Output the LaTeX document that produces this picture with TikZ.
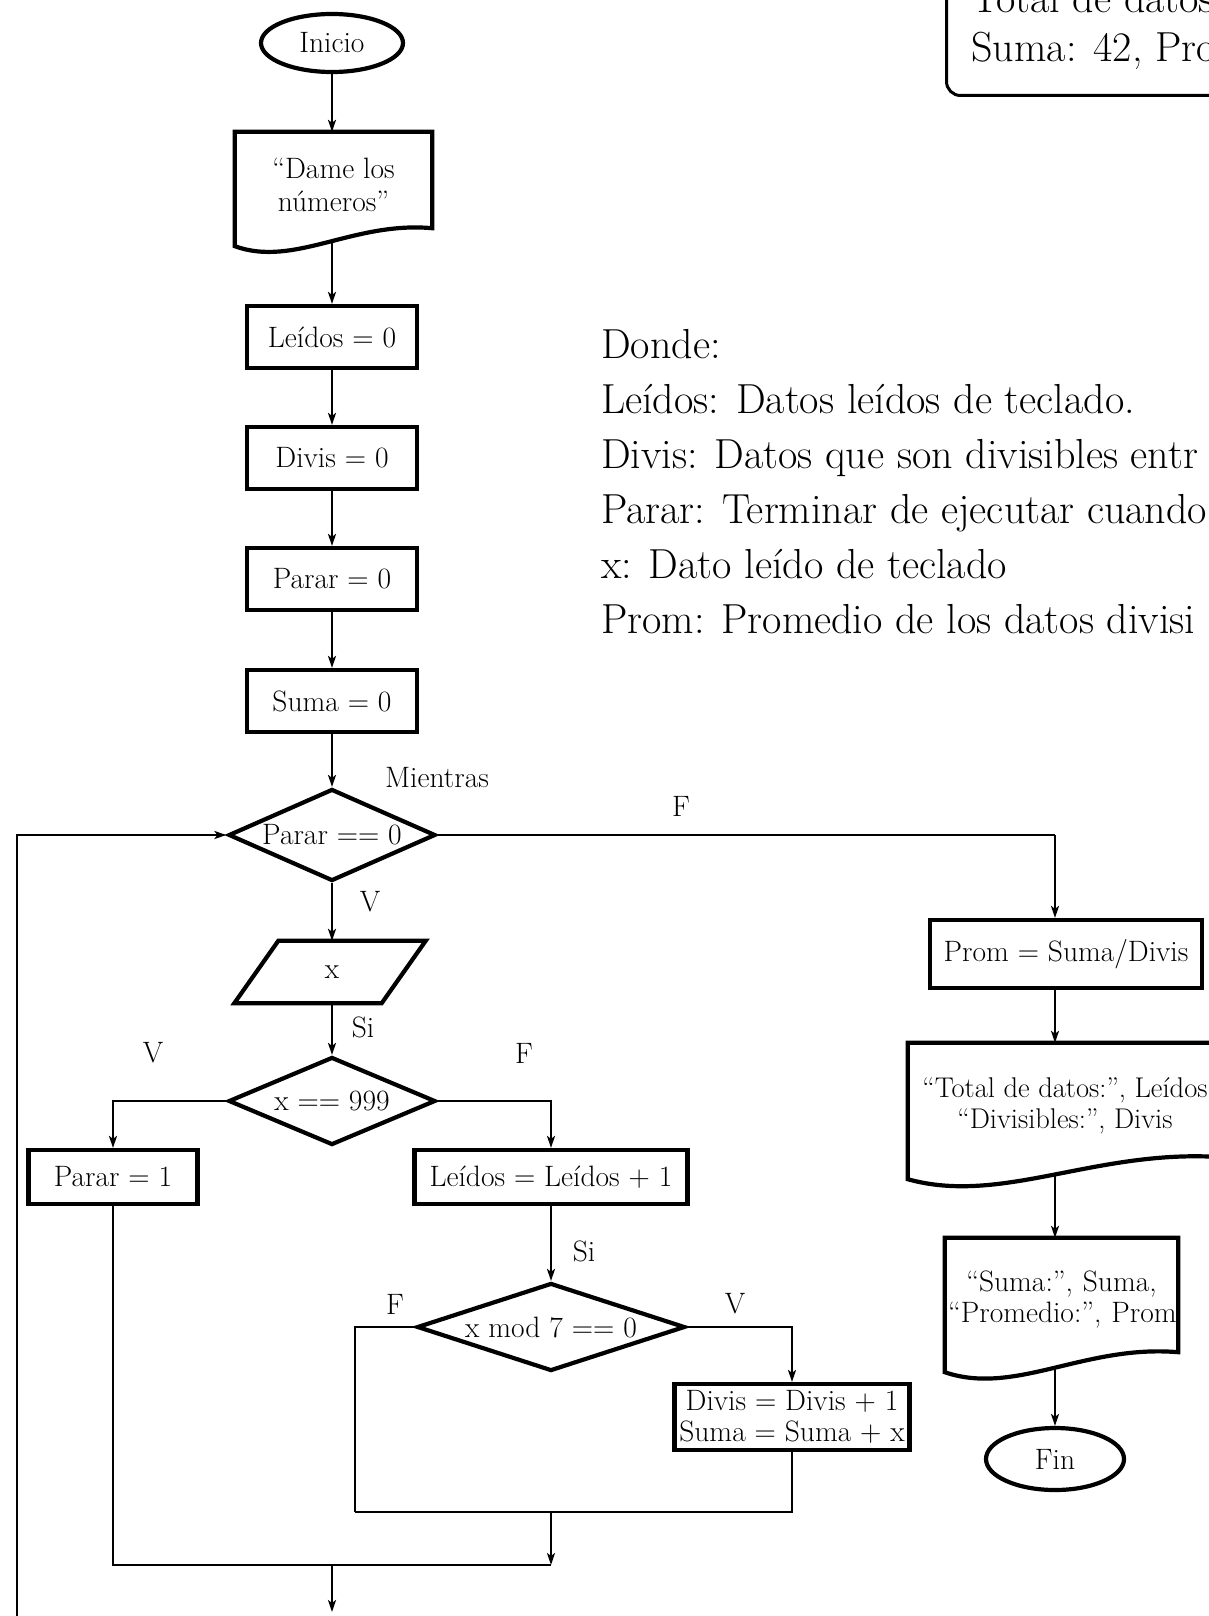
\documentclass[tikz,border=0pt]{standalone}
\usepackage{fontspec}
\usetikzlibrary{shapes.geometric,arrows.meta,calc}
\pgfdeclarelayer{paper}
\pgfdeclarelayer{wires}
\pgfdeclarelayer{outlines}
\pgfsetlayers{paper,wires,outlines,main}

\newcommand\flowfont{\fontsize{29.5}{31}\selectfont}
\newcommand\notefont{\fontsize{42}{55}\selectfont}

\tikzset{
  shapeline/.style={draw=black, line width=4.2pt, fill=white},
  procbox/.style={shapeline, rectangle, minimum width=170pt, minimum height=62pt,
    inner sep=2pt, font=\flowfont, align=center},
  decision/.style={shapeline, diamond, aspect=2.25, minimum width=207pt, minimum height=92pt,
    inner sep=0pt, font=\flowfont},
  terminal/.style={shapeline, ellipse, minimum width=142pt, minimum height=58pt,
    inner sep=0pt, font=\flowfont},
  docarea/.style={rectangle, inner sep=3pt, font=\flowfont, align=center},
  wire/.style={line width=2.2pt, draw=black},
  flow/.style={wire, -{Stealth[length=12pt, width=8pt, inset=3pt]}},
  tag/.style={font=\flowfont, inner sep=0pt},
  note/.style={font=\notefont, inner sep=0pt, anchor=base west},
}

% document symbol: straight top and sides, wavy bottom edge
% #1 = node holding the text, #2 = rise of the right bottom corner
\newcommand\docoutline[2]{%
  \begin{pgfonlayer}{outlines}
  \path[shapeline] let \p1=(#1.south west), \p2=(#1.north east) in
    ({\x1},{\y1-0.5*#2}) -- ({\x1},{\y2}) -- ({\x2},{\y2}) -- ({\x2},{\y1+0.5*#2})
    .. controls ({\x1+0.6*(\x2-\x1)},{\y1+0.9*#2}) and ({\x1+0.3*(\x2-\x1)},{\y1-1.7*#2})
    .. ({\x1},{\y1-0.5*#2}) -- cycle;
  \end{pgfonlayer}}

\begin{document}
\begin{tikzpicture}[x=1pt, y=-1pt]
\useasboundingbox (0,0) rectangle (1209,1616);
\begin{pgfonlayer}{paper}
  \fill[white] (0,0) rectangle (1209,1616);
\end{pgfonlayer}

% ---------- main column ----------
\node[terminal] (ini) at (332,43) {Inicio};
\node[docarea, minimum width=197pt, minimum height=105pt, font=\fontsize{29.5}{33}\selectfont] (doc1) at (333.5,184.5) {“Dame los\\números”};
\docoutline{doc1}{18pt}
\node[procbox] (b1) at (332,337) {Leídos = 0};
\node[procbox] (b2) at (332,458) {Divis = 0};
\node[procbox] (b3) at (332,579) {Parar = 0};
\node[procbox] (b4) at (332,701) {Suma = 0};
\node[decision] (d1) at (332,835) {Parar == 0};
\node[tag] (lmient) at (437,778) {Mientras};

% data input x (parallelogram)
\node[font=\flowfont, minimum width=151pt, minimum height=62pt, inner sep=0pt] (inx) at (332,972) {x};
\begin{pgfonlayer}{outlines}
  \path[shapeline] ($(inx.north west)+(22,0)$) -- ($(inx.north east)+(18,0)$)
    -- ($(inx.south east)+(-26,0)$) -- ($(inx.south west)+(-22,0)$) -- cycle;
\end{pgfonlayer}

\node[decision, minimum height=88pt] (d2) at (332,1101) {x == 999};
\node[procbox, minimum width=169pt, minimum height=54pt] (b5) at (113,1177) {Parar = 1};
\node[procbox, minimum width=273pt, minimum height=54pt] (b6) at (551,1177) {Leídos = Leídos + 1};
\node[decision, aspect=3, minimum width=268pt, minimum height=88pt] (d3) at (551,1327) {x mod 7 == 0};
\node[procbox, minimum width=235pt, minimum height=66pt, inner sep=1pt] (b7) at (792,1417)
  {Divis = Divis + 1\\Suma = Suma + x};

% ---------- right column ----------
\node[procbox, minimum width=272pt, minimum height=68pt] (b8) at (1066,954) {Prom = Suma/Divis};
\node[docarea, minimum width=314pt, minimum height=125pt, font=\fontsize{28.5}{31}\selectfont] (doc2) at (1065,1105.5)
  {“Total de datos:”, Leídos\\“Divisibles:”, Divis};
\docoutline{doc2}{22pt}
\node[docarea, inner xsep=3pt, text width=227pt, minimum height=124pt] (doc3) at (1061.5,1300)
  {\mbox{“Suma:”, Suma,}\\\mbox{“Promedio:”, Prom}};
\docoutline{doc3}{20pt}
\node[terminal, minimum width=138pt, minimum height=62pt] (fin) at (1055,1459) {Fin};

% ---------- branch labels ----------
\node[tag] (lf1) at (681,806) {F};
\node[tag] (lv1) at (370,902) {V};
\node[tag] (ls1) at (363,1027) {Si};
\node[tag] (lv2) at (153,1053) {V};
\node[tag] (lf2) at (524,1053) {F};
\node[tag] (ls2) at (584,1251) {Si};
\node[tag] (lf3) at (395,1304) {F};
\node[tag] (lv3) at (735,1304) {V};

% ---------- sample output and legend ----------
\node[draw, line width=3pt, rounded corners=14pt, fill=white, anchor=south west,
  inner xsep=25pt, inner ysep=26pt, align=left, font=\fontsize{42}{49}\selectfont]
  (result) at (945,97) {Total de datos\\Suma: 42, Pro};

\node[note] (n0) at (601,358) {Donde:};
\node[note] (n1) at (601,413) {Leídos: Datos leídos de teclado.};
\node[note] (n2) at (601,468) {Divis: Datos que son divisibles entr};
\node[note] (n3) at (601,523) {Parar: Terminar de ejecutar cuando};
\node[note] (n4) at (601,578) {x: Dato leído de teclado};
\node[note] (n5) at (601,633) {Prom: Promedio de los datos divisi};

% ---------- connectors ----------
\coordinate (rc) at (1055,835);
\coordinate (jl) at (355,1512);
\coordinate (jm) at (551,1512);
\coordinate (km) at (551,1565);
\coordinate (kx) at (332,1565);
\coordinate (exit) at (332,1612);
\coordinate (lp) at (17,1650);

\begin{pgfonlayer}{wires}
  \draw[flow] (ini) -- (ini |- doc1.north);
  \draw[flow] (b1 |- doc1.center) -- (b1);
  \draw[flow] (b1) -- (b2);
  \draw[flow] (b2) -- (b3);
  \draw[flow] (b3) -- (b4);
  \draw[flow] (b4) -- (d1);
  \draw[flow] (d1) -- (inx);
  \draw[flow] (inx) -- (d2);
  \draw[flow] (d2.west) -| (b5.north);
  \draw[flow] (d2.east) -| (b6.north);
  \draw[flow] (b6) -- (d3);
  \draw[flow] (d3.east) -| (b7.north);
  \draw[wire] (d3.west) -| (jl);
  \draw[wire] (b7.south) |- (jl);
  \draw[flow] (jm) -- (km);
  \draw[wire] (b5.south) |- (km);
  \draw[flow] (kx) -- (exit);
  \draw[flow] (lp) |- (d1.west);
  \draw[wire] (d1.east) -- (rc);
  \draw[flow] (rc) -- (rc |- b8.north);
  \draw[flow] (b8.south -| rc) -- (rc |- doc2.north);
  \draw[flow] (doc2.center -| rc) -- (rc |- doc3.north);
  \draw[flow] (doc3.center -| rc) -- (fin);
\end{pgfonlayer}
\end{tikzpicture}
\end{document}
